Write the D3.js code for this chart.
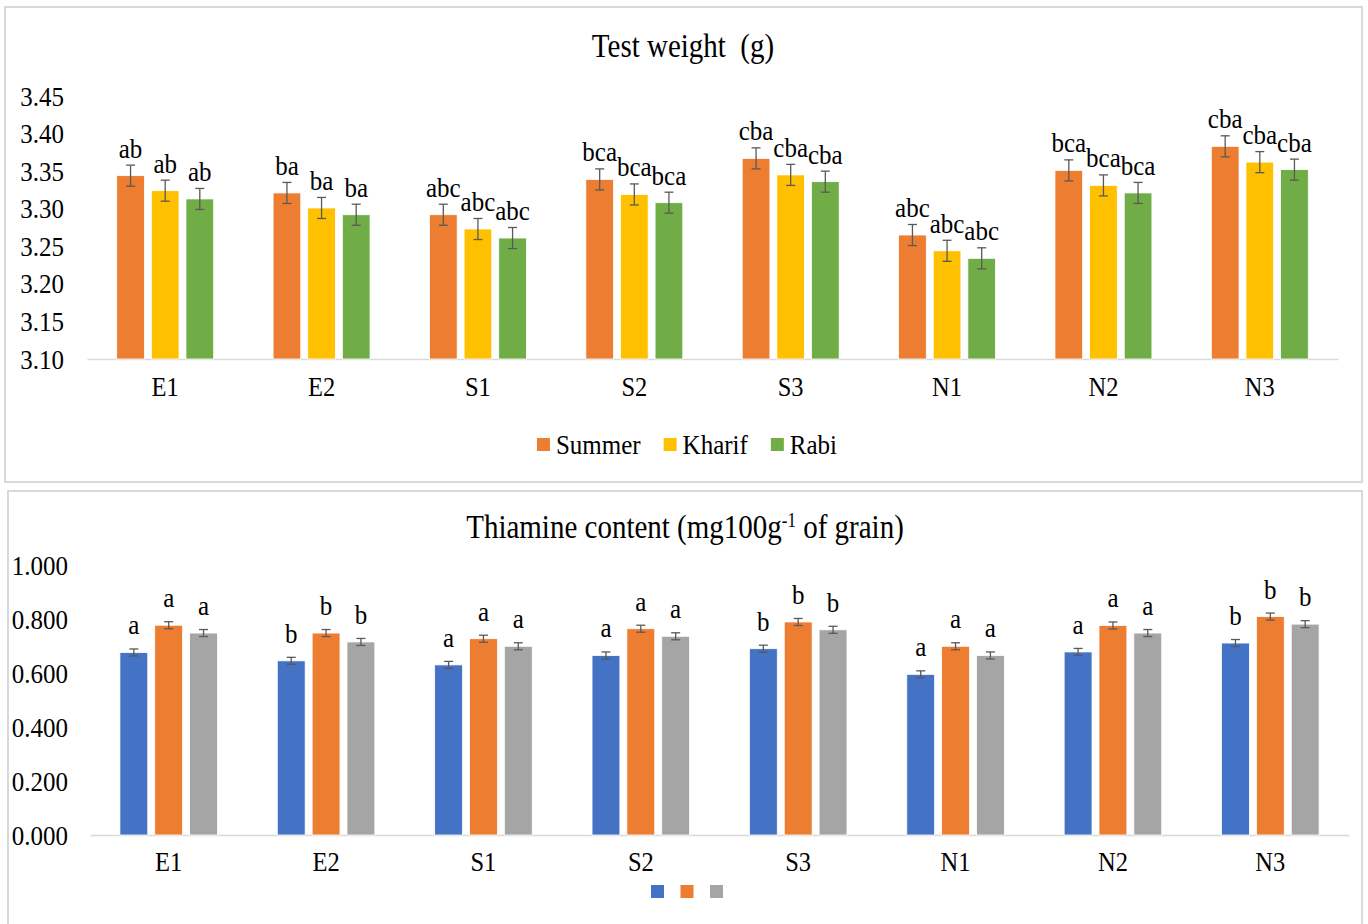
<!DOCTYPE html>
<html>
<head>
<meta charset="utf-8">
<script src="https://cdn.jsdelivr.net/npm/d3@7"></script>
<style>
    body { margin: 0; background: #fff; }
    svg text {
        fill: #000;
        transform-box: fill-box;
        transform-origin: center;
        transform: scaleY(1.12);
    }
    svg text.title { transform: scaleY(1.18); }
</style>
</head>
<body>
<div id="chart"></div>
<script>
const FONT = "'Liberation Serif', 'Tinos', 'Times New Roman', 'DejaVu Serif', serif";

// data
const categories = ["E1", "E2", "S1", "S2", "S3", "N1", "N2", "N3"];

// Test weight (g)
const testSeries = ["Summer", "Kharif", "Rabi"];
const testSummer = [3.344, 3.321, 3.292, 3.339, 3.367, 3.265, 3.351, 3.383];
const testKharif = [3.324, 3.301, 3.273, 3.319, 3.345, 3.244, 3.331, 3.362];
const testRabi = [3.313, 3.292, 3.261, 3.308, 3.336, 3.234, 3.321, 3.352];
const testErr = 0.014;
const testLetters = ["ab", "ba", "abc", "bca", "cba", "abc", "bca", "cba"];
const testTicks = [3.10, 3.15, 3.20, 3.25, 3.30, 3.35, 3.40, 3.45];

// Thiamine content, series have no names in the legend
const thiaSeries = ["", " ", "  "];
const thiaBlue = [0.676, 0.645, 0.630, 0.665, 0.690, 0.595, 0.678, 0.711];
const thiaOrange = [0.777, 0.748, 0.727, 0.764, 0.789, 0.699, 0.776, 0.809];
const thiaGray = [0.748, 0.715, 0.699, 0.736, 0.760, 0.665, 0.748, 0.781];
const thiaErr = 0.013;
const thiaLetters = ["a", "b", "a", "a", "b", "a", "a", "b"];
const thiaTicks = [0, 0.2, 0.4, 0.6, 0.8, 1.0];

let svg = d3.select("#chart").append("svg")
    .attr("width", 1368)
    .attr("height", 924)
    .style("font-family", FONT);

// panel frames
svg.append("rect")
    .attr("x", 5).attr("y", 7)
    .attr("width", 1357).attr("height", 475)
    .attr("fill", "none")
    .attr("stroke", "#d9d9d9")
    .attr("stroke-width", 2);

svg.append("rect")
    .attr("x", 8).attr("y", 491)
    .attr("width", 1354).attr("height", 460)
    .attr("fill", "none")
    .attr("stroke", "#d9d9d9")
    .attr("stroke-width", 2);

function drawPanel(opt) {
    let g = svg.append("g");

    let x = d3.scaleBand()
        .domain(categories)
        .range([opt.left, opt.right])
        .paddingInner(0.38)
        .paddingOuter(0.19);

    let xSub = d3.scaleBand()
        .domain(opt.series)
        .range([0, x.bandwidth()])
        .paddingInner(0.2);

    let y = d3.scaleLinear()
        .domain(opt.domain)
        .range([opt.bottom, opt.top]);

    // title
    let title = g.append("text")
        .attr("class", "title")
        .attr("x", opt.titleX)
        .attr("y", opt.titleY)
        .attr("text-anchor", "middle")
        .style("font-size", "29px")
        .text(opt.title[0]);
    if (opt.title.length > 1) {
        title.append("tspan")
            .attr("baseline-shift", "super")
            .style("font-size", "17px")
            .text(opt.title[1]);
        title.append("tspan").text(opt.title[2]);
    }

    // y axis labels
    let yAxis = g.append("g")
        .attr("transform", "translate(" + opt.labelRight + ",0)")
        .call(d3.axisLeft(y).tickValues(opt.ticks).tickSize(0).tickPadding(0).tickFormat(d3.format(opt.fmt)));
    yAxis.select(".domain").remove();
    yAxis.attr("font-family", null);
    yAxis.selectAll("text")
        .style("font-size", "25px");

    // x axis
    let xAxis = g.append("g")
        .attr("transform", "translate(0," + opt.bottom + ")")
        .call(d3.axisBottom(x).tickSize(0).tickPadding(opt.catPad).tickSizeOuter(0));
    xAxis.attr("font-family", null);
    xAxis.select(".domain")
        .attr("stroke", "#d9d9d9")
        .attr("stroke-width", 1.5);
    xAxis.selectAll("text")
        .style("font-size", "24.5px");

    // bars
    opt.series.forEach(function (s, si) {
        let vals = opt.values[si];
        let sg = g.append("g");

        sg.selectAll("rect")
            .data(vals)
            .enter().append("rect")
            .attr("x", (d, i) => x(categories[i]) + xSub(s))
            .attr("y", d => y(d))
            .attr("width", xSub.bandwidth())
            .attr("height", d => opt.bottom - y(d))
            .attr("fill", opt.colors[si])
            .attr("stroke", "#fff")
            .attr("stroke-width", 0.8);

        // error bars
        let eb = sg.selectAll(".err")
            .data(vals)
            .enter().append("g")
            .attr("transform", (d, i) => "translate(" + (x(categories[i]) + xSub(s) + xSub.bandwidth() / 2) + ",0)");
        eb.append("line")
            .attr("y1", d => y(d - opt.err))
            .attr("y2", d => y(d + opt.err))
            .attr("stroke", "#595959").attr("stroke-width", 1.3);
        eb.append("line")
            .attr("x1", -4.5).attr("x2", 4.5)
            .attr("y1", d => y(d + opt.err)).attr("y2", d => y(d + opt.err))
            .attr("stroke", "#595959").attr("stroke-width", 1.3);
        eb.append("line")
            .attr("x1", -4.5).attr("x2", 4.5)
            .attr("y1", d => y(d - opt.err)).attr("y2", d => y(d - opt.err))
            .attr("stroke", "#595959").attr("stroke-width", 1.3);

        // letters
        sg.selectAll(".lbl")
            .data(vals)
            .enter().append("text")
            .attr("x", (d, i) => x(categories[i]) + xSub(s) + xSub.bandwidth() / 2)
            .attr("y", d => y(d) - 19)
            .attr("text-anchor", "middle")
            .style("font-size", "25px")
            .text((d, i) => opt.letters[i]);
    });

    // legend, centred below the axis
    let leg = g.append("g");
    let lx = 0;
    opt.series.forEach(function (s, si) {
        leg.append("rect")
            .attr("x", lx).attr("y", -7)
            .attr("width", 13).attr("height", 13)
            .attr("fill", opt.colors[si]);
        lx += 13;
        if (s.trim() !== "") {
            let t = leg.append("text")
                .attr("x", lx + 6).attr("y", 8)
                .style("font-size", "25px")
                .text(s);
            lx += 6 + t.node().getComputedTextLength();
        }
        lx += opt.legGap;
    });
    lx -= opt.legGap;
    leg.attr("transform", "translate(" + (opt.legCenter - lx / 2) + "," + opt.legY + ")");
}

drawPanel({
    left: 87, right: 1338, top: 96, bottom: 359,
    domain: [3.10, 3.45], ticks: testTicks, fmt: ".2f", labelRight: 64,
    series: testSeries, values: [testSummer, testKharif, testRabi],
    colors: ["#ED7D31", "#FFC000", "#70AD47"],
    err: testErr, letters: testLetters,
    title: ["Test weight\u00a0\u00a0(g)"], titleX: 683, titleY: 55,
    catPad: 19, legCenter: 687, legY: 445, legGap: 23
});

drawPanel({
    left: 90, right: 1349, top: 565, bottom: 835,
    domain: [0, 1], ticks: thiaTicks, fmt: ".3f", labelRight: 68,
    series: thiaSeries, values: [thiaBlue, thiaOrange, thiaGray],
    colors: ["#4472C4", "#ED7D31", "#A5A5A5"],
    err: thiaErr, letters: thiaLetters,
    title: ["Thiamine content (mg100g", "-1", " of grain)"], titleX: 685, titleY: 536,
    catPad: 18, legCenter: 687, legY: 892, legGap: 16.5
});
</script>
</body>
</html>
